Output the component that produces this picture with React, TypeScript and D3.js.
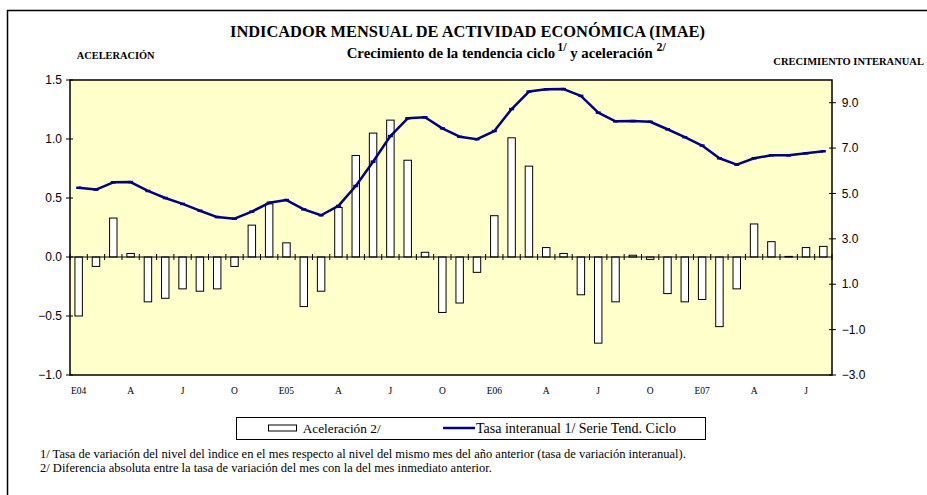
import React from "react";
import * as d3 from "d3";

const categories = [
  "Ene-04","Feb-04","Mar-04","Abr-04","May-04","Jun-04","Jul-04","Ago-04","Sep-04","Oct-04","Nov-04","Dic-04",
  "Ene-05","Feb-05","Mar-05","Abr-05","May-05","Jun-05","Jul-05","Ago-05","Sep-05","Oct-05","Nov-05","Dic-05",
  "Ene-06","Feb-06","Mar-06","Abr-06","May-06","Jun-06","Jul-06","Ago-06","Sep-06","Oct-06","Nov-06","Dic-06",
  "Ene-07","Feb-07","Mar-07","Abr-07","May-07","Jun-07","Jul-07","Ago-07",
];

const tickLabels = ["E04","A","J","O","E05","A","J","O","E06","A","J","O","E07","A","J"];

const aceleracion = [
  -0.50, -0.08, 0.33, 0.03, -0.38, -0.35, -0.27, -0.29, -0.27, -0.08, 0.27, 0.45,
  0.12, -0.42, -0.29, 0.42, 0.86, 1.05, 1.16, 0.82, 0.04, -0.47, -0.39, -0.13,
  0.35, 1.01, 0.77, 0.08, 0.03, -0.32, -0.73, -0.38, 0.015, -0.02, -0.31, -0.38,
  -0.36, -0.59, -0.27, 0.28, 0.13, 0.005, 0.08, 0.09,
];

const tasaInteranual = [
  5.25, 5.17, 5.49, 5.50, 5.11, 4.80, 4.54, 4.24, 3.96, 3.89, 4.20, 4.59,
  4.71, 4.30, 4.04, 4.45, 5.33, 6.40, 7.53, 8.31, 8.36, 7.87, 7.50, 7.39,
  7.75, 8.72, 9.49, 9.59, 9.60, 9.30, 8.56, 8.18, 8.19, 8.16, 7.83, 7.48,
  7.11, 6.55, 6.27, 6.55, 6.68, 6.68, 6.77, 6.86,
];

const leftTicks = [-1.0, -0.5, 0.0, 0.5, 1.0, 1.5];
const rightTicks = [-3, -1, 1, 3, 5, 7, 9];

const W = 927;
const H = 495;
const plot = { left: 70, right: 832, top: 80, bottom: 375 };

const serif = "'Liberation Serif', 'Times New Roman', serif";
const sans = "'Liberation Sans', Arial, sans-serif";

export default function App() {
  const x = d3.scaleBand<string>().domain(categories).range([plot.left, plot.right]).paddingInner(0).paddingOuter(0);
  const yL = d3.scaleLinear().domain([-1, 1.5]).range([plot.bottom, plot.top]);
  const yR = d3.scaleLinear().domain([-3, 10]).range([plot.bottom, plot.top]);
  const bw = x.bandwidth();
  const barW = bw * 0.43;
  const y0 = yL(0);
  const fmt = d3.format(".1f");

  const line = d3
    .line<number>()
    .x((_, i) => (x(categories[i]) as number) + bw / 2)
    .y((d) => yR(d));

  return (
    <svg
      width={W}
      height={H}
      style={{ position: "absolute", left: 0, top: 0, background: "#fff" }}
    >
      {/* outer frame */}
      <path d={`M7.5,${H + 10} V10.5 H${W + 10}`} fill="none" stroke="#000" strokeWidth={1.5} />

      {/* titles */}
      <text x={230} y={36.5} fontFamily={serif} fontWeight="bold" fontSize={16.4} fill="#000">
        INDICADOR MENSUAL DE ACTIVIDAD ECONÓMICA (IMAE)
      </text>
      <text x={346.7} y={57.5} fontFamily={serif} fontWeight="bold" fontSize={14.8} fill="#000">
        Crecimiento de la tendencia ciclo
        <tspan fontSize={12} dx={2} dy={-7}>1/</tspan>
        <tspan dy={7}> y aceleración </tspan>
        <tspan fontSize={12} dy={-7}>2/</tspan>
      </text>
      <text x={76.7} y={59.3} fontFamily={serif} fontWeight="bold" fontSize={10.4} fill="#000">
        ACELERACIÓN
      </text>
      <text x={773.3} y={65} fontFamily={serif} fontWeight="bold" fontSize={10.5} fill="#000">
        CRECIMIENTO INTERANUAL
      </text>

      {/* plot area */}
      <rect
        x={plot.left}
        y={plot.top}
        width={plot.right - plot.left}
        height={plot.bottom - plot.top}
        fill="#FFFFCC"
      />

      {/* bars */}
      {aceleracion.map((v, i) => {
        const cx = (x(categories[i]) as number) + bw / 2;
        const yv = yL(v);
        return (
          <rect
            key={i}
            x={cx - barW / 2}
            y={Math.min(yv, y0)}
            width={barW}
            height={Math.max(Math.abs(yv - y0), 0.5)}
            fill="#fff"
            stroke="#000"
            strokeWidth={1}
          />
        );
      })}

      {/* category axis at zero */}
      <line x1={plot.left} x2={plot.right} y1={y0} y2={y0} stroke="#000" strokeWidth={1} />
      {categories.map((c, i) => {
        const bx = (x(c) as number);
        return <line key={i} x1={bx} x2={bx} y1={y0 - 3} y2={y0 + 3} stroke="#000" strokeWidth={1} />;
      })}
      <line x1={plot.right} x2={plot.right} y1={y0 - 3} y2={y0 + 3} stroke="#000" strokeWidth={1} />

      {/* line series */}
      <path d={line(tasaInteranual) || ""} fill="none" stroke="#000080" strokeWidth={2.5} strokeLinejoin="round" />
      {tasaInteranual.map((v, i) => {
        const cx = (x(categories[i]) as number) + bw / 2;
        return (
          <line key={i} x1={cx - 2.5} x2={cx + 2.5} y1={yR(v)} y2={yR(v)} stroke="#000080" strokeWidth={2.5} />
        );
      })}

      {/* plot border */}
      <rect
        x={plot.left}
        y={plot.top}
        width={plot.right - plot.left}
        height={plot.bottom - plot.top}
        fill="none"
        stroke="#000"
        strokeWidth={1.5}
      />

      {/* left axis */}
      {leftTicks.map((t) => (
        <g key={t}>
          <line x1={plot.left - 4} x2={plot.left + 3} y1={yL(t)} y2={yL(t)} stroke="#000" strokeWidth={1} />
          <text
            x={62}
            y={yL(t)}
            dy="0.35em"
            textAnchor="end"
            fontFamily={sans}
            fontSize={12}
            fill="#000"
          >
            {fmt(t)}
          </text>
        </g>
      ))}

      {/* right axis */}
      {rightTicks.map((t) => (
        <g key={t}>
          <line x1={plot.right - 3} x2={plot.right + 4} y1={yR(t)} y2={yR(t)} stroke="#000" strokeWidth={1} />
          <text x={841.7} y={yR(t)} dy="0.35em" fontFamily={sans} fontSize={12} fill="#000">
            {fmt(t)}
          </text>
        </g>
      ))}

      {/* x tick labels */}
      {tickLabels.map((lab, k) => {
        const c = categories[k * 3];
        const cx = (x(c) as number) + bw / 2;
        return (
          <text key={k} x={cx} y={394} textAnchor="middle" fontFamily={serif} fontSize={9.5} fill="#000">
            {lab}
          </text>
        );
      })}

      {/* legend */}
      <rect x={236.5} y={417.5} width={469} height={22} fill="#fff" stroke="#000" strokeWidth={1} />
      <rect x={268.5} y={425} width={28} height={6} fill="#fff" stroke="#000" strokeWidth={1} />
      <text x={302.7} y={432.5} fontFamily={serif} fontSize={13.3} fill="#000">
        Aceleración 2/
      </text>
      <line x1={443} x2={475} y1={428} y2={428} stroke="#000080" strokeWidth={2.5} />
      <text x={476} y={432.5} fontFamily={serif} fontSize={14} fill="#000">
        Tasa interanual 1/ Serie Tend. Ciclo
      </text>

      {/* footnotes */}
      <text x={40} y={457.5} fontFamily={serif} fontSize={12.5} fill="#000">
        1/ Tasa de variación del nivel del ìndice en el mes respecto al nivel del mismo mes del año anterior (tasa de variación interanual).
      </text>
      <text x={40} y={472} fontFamily={serif} fontSize={12.5} fill="#000">
        2/ Diferencia absoluta entre la tasa de variación del mes con la del mes inmediato anterior.
      </text>
    </svg>
  );
}
